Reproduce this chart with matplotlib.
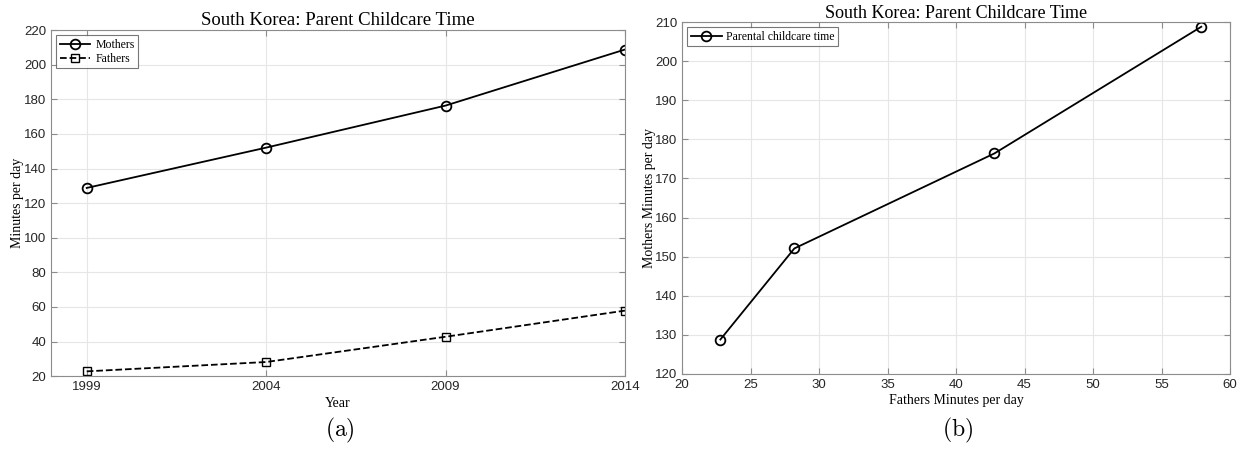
import matplotlib
matplotlib.use('Agg')
import matplotlib.pyplot as plt
import numpy as np

plt.rcParams['mathtext.fontset'] = 'cm'

# 数据
years = [1999, 2004, 2009, 2014]
mothers = [128.8, 152.1, 176.4, 208.8]
fathers = [22.8, 28.2, 42.8, 57.9]

serif = ['Liberation Serif', 'DejaVu Serif']
sans = ['Liberation Sans', 'DejaVu Sans']
grey = '#262626'
spine_c = '#8c8c8c'


def style_axes(ax):
    ax.tick_params(axis='both', direction='in', top=True, right=True,
                   labelsize=9.5, colors=spine_c, labelcolor=grey, length=4)
    for lab in ax.get_xticklabels() + ax.get_yticklabels():
        lab.set_family(sans)
    for s in ax.spines.values():
        s.set_color(spine_c)
        s.set_linewidth(0.8)
    ax.grid(True, color='#e6e6e6', linewidth=0.8)
    ax.set_axisbelow(True)


fig = plt.figure(figsize=(12.4, 4.5), dpi=100)

# (a)
ax1 = fig.add_axes([0.041, 0.164, 0.463, 0.769])
ax1.plot(years, mothers, color='black', linestyle='-', marker='o', markersize=7,
         markerfacecolor='none', markeredgewidth=1.3, linewidth=1.3, label='Mothers')
ax1.plot(years, fathers, color='black', linestyle='--', marker='s', markersize=5.5,
         markerfacecolor='none', markeredgewidth=1.0, linewidth=1.3, label='Fathers')
ax1.set_xlim(1998, 2014)
ax1.set_ylim(20, 220)
ax1.set_xticks(years)
ax1.set_yticks(np.arange(20, 221, 20))
style_axes(ax1)
ax1.set_title('South Korea: Parent Childcare Time', family=serif, fontsize=13.5, pad=4)
ax1.set_xlabel('Year', family=serif, fontsize=10, labelpad=3)
ax1.set_ylabel('Minutes per day', family=serif, fontsize=10, labelpad=0)
leg = ax1.legend(loc='upper left', prop={'family': serif, 'size': 8.5}, frameon=True,
                 fancybox=False, edgecolor='#555555', handlelength=2.6,
                 borderpad=0.3, labelspacing=0.15, handletextpad=0.4, borderaxespad=0.45)
leg.get_frame().set_linewidth(0.8)

# (b)
ax2 = fig.add_axes([0.550, 0.169, 0.442, 0.782])
ax2.plot(fathers, mothers, color='black', linestyle='-', marker='o', markersize=7,
         markerfacecolor='none', markeredgewidth=1.3, linewidth=1.3,
         label='Parental childcare time')
ax2.set_xlim(20, 60)
ax2.set_ylim(120, 210)
ax2.set_xticks(np.arange(20, 61, 5))
ax2.set_yticks(np.arange(120, 211, 10))
style_axes(ax2)
ax2.set_title('South Korea: Parent Childcare Time', family=serif, fontsize=13, pad=3)
ax2.set_xlabel('Fathers Minutes per day', family=serif, fontsize=10, labelpad=2)
ax2.set_ylabel('Mothers Minutes per day', family=serif, fontsize=10, labelpad=-1)
leg2 = ax2.legend(loc='upper left', prop={'family': serif, 'size': 8.5}, frameon=True,
                  fancybox=False, edgecolor='#555555', handlelength=2.6,
                  borderpad=0.3, labelspacing=0.2, handletextpad=0.4, borderaxespad=0.45)
leg2.get_frame().set_linewidth(0.8)

fig.text(0.274, 0.03, r'$\mathrm{(a)}$', fontsize=17, ha='center')
fig.text(0.772, 0.03, r'$\mathrm{(b)}$', fontsize=17, ha='center')

fig.savefig('out.png', dpi=100)
plt.close('all')
